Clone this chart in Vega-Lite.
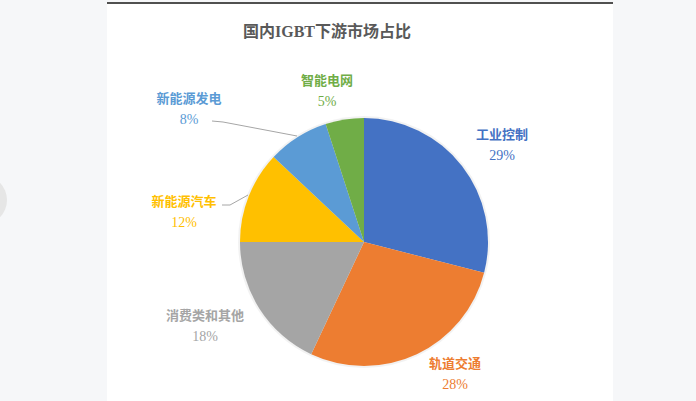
{
  "$schema": "https://vega.github.io/schema/vega-lite/v6.json",
  "width": 506,
  "height": 398,
  "autosize": {"type": "none"},
  "padding": {"left": 107, "top": 3, "right": 83, "bottom": 0},
  "background": "#f6f7f9",
  "view": {"fill": "#ffffff", "stroke": null},
  "config": {"font": "Liberation Serif, Noto Sans CJK SC"},
  "title": {
    "text": "国内IGBT下游市场占比",
    "anchor": "middle",
    "dx": -33,
    "offset": -46,
    "baseline": "middle",
    "fontSize": 16,
    "fontWeight": "bold",
    "color": "#595959"
  },
  "datasets": {
    "slices": [
      {"segment": "工业控制", "share": 0.29, "idx": 1, "lx": 138, "ly": 97.5},
      {"segment": "轨道交通", "share": 0.28, "idx": 2, "lx": 91, "ly": -132},
      {"segment": "消费类和其他", "share": 0.18, "idx": 3, "lx": -159, "ly": -84},
      {"segment": "新能源汽车", "share": 0.12, "idx": 4, "lx": -180, "ly": 30},
      {"segment": "新能源发电", "share": 0.08, "idx": 5, "lx": -175, "ly": 133},
      {"segment": "智能电网", "share": 0.05, "idx": 6, "lx": -37, "ly": 151}
    ],
    "leaders": [
      {"segment": "新能源发电", "pt": 1, "x": -152, "y": 121},
      {"segment": "新能源发电", "pt": 2, "x": -141, "y": 120},
      {"segment": "新能源发电", "pt": 3, "x": -67, "y": 106},
      {"segment": "新能源汽车", "pt": 1, "x": -142, "y": 37},
      {"segment": "新能源汽车", "pt": 2, "x": -134, "y": 37},
      {"segment": "新能源汽车", "pt": 3, "x": -116, "y": 47}
    ],
    "page": [
      {"item": "side button", "x": -382, "y": 42}
    ]
  },
  "layer": [
    {
      "data": {"name": "page"},
      "mark": {"type": "circle", "size": 2500, "color": "#e6e6e6", "opacity": 1},
      "encoding": {
        "x": {"field": "x", "type": "quantitative", "scale": {"domain": [-257, 249]}, "axis": null},
        "y": {"field": "y", "type": "quantitative", "scale": {"domain": [-159, 239]}, "axis": null}
      }
    },
    {
      "data": {"name": "slices"},
      "mark": {"type": "rule", "color": "#505050", "strokeWidth": 2},
      "encoding": {
        "y": {"datum": 239, "type": "quantitative", "scale": {"domain": [-159, 239]}, "axis": null}
      }
    },
    {
      "data": {"name": "slices"},
      "mark": {"type": "arc", "outerRadius": 126, "fill": "#000000", "opacity": 0.05},
      "encoding": {
        "theta": {"field": "share", "type": "quantitative"},
        "order": {"field": "idx"},
        "x": {"datum": 0, "type": "quantitative", "scale": {"domain": [-257, 249]}, "axis": null},
        "y": {"datum": 0, "type": "quantitative", "scale": {"domain": [-159, 239]}, "axis": null}
      }
    },
    {
      "data": {"name": "slices"},
      "mark": {"type": "arc", "outerRadius": 124},
      "encoding": {
        "theta": {"field": "share", "type": "quantitative"},
        "order": {"field": "idx"},
        "color": {
          "field": "segment",
          "type": "nominal",
          "scale": {
            "domain": ["工业控制", "轨道交通", "消费类和其他", "新能源汽车", "新能源发电", "智能电网"],
            "range": ["#4472C4", "#ED7D31", "#A5A5A5", "#FFC000", "#5B9BD5", "#70AD47"]
          },
          "legend": null
        },
        "x": {"datum": 0, "type": "quantitative", "scale": {"domain": [-257, 249]}, "axis": null},
        "y": {"datum": 0, "type": "quantitative", "scale": {"domain": [-159, 239]}, "axis": null},
        "tooltip": [
          {"field": "segment", "title": "下游"},
          {"field": "share", "title": "占比", "format": ".0%"}
        ]
      }
    },
    {
      "data": {"name": "leaders"},
      "mark": {"type": "line", "color": "#A6A6A6", "strokeWidth": 1},
      "encoding": {
        "x": {"field": "x", "type": "quantitative", "scale": {"domain": [-257, 249]}, "axis": null},
        "y": {"field": "y", "type": "quantitative", "scale": {"domain": [-159, 239]}, "axis": null},
        "detail": {"field": "segment"},
        "order": {"field": "pt"}
      }
    },
    {
      "data": {"name": "slices"},
      "mark": {"type": "text", "dy": -10, "fontSize": 13, "fontWeight": "bold"},
      "encoding": {
        "x": {"field": "lx", "type": "quantitative", "scale": {"domain": [-257, 249]}, "axis": null},
        "y": {"field": "ly", "type": "quantitative", "scale": {"domain": [-159, 239]}, "axis": null},
        "text": {"field": "segment"},
        "color": {"field": "segment", "type": "nominal", "legend": null}
      }
    },
    {
      "data": {"name": "slices"},
      "mark": {"type": "text", "dy": 11, "fontSize": 14},
      "encoding": {
        "x": {"field": "lx", "type": "quantitative", "scale": {"domain": [-257, 249]}, "axis": null},
        "y": {"field": "ly", "type": "quantitative", "scale": {"domain": [-159, 239]}, "axis": null},
        "text": {"field": "share", "format": ".0%"},
        "color": {"field": "segment", "type": "nominal", "legend": null}
      }
    }
  ]
}
